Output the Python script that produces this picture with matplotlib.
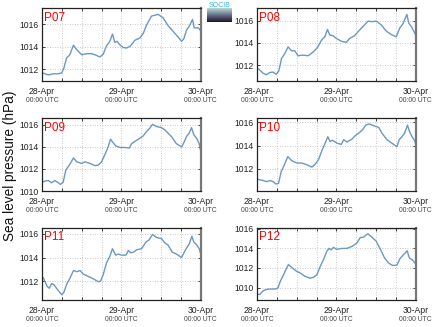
import numpy as np
import pandas as pd
import matplotlib
matplotlib.use("Agg")
import matplotlib.pyplot as plt
import matplotlib.dates as mdates
from matplotlib.ticker import MultipleLocator

plt.rcParams['font.family'] = ['Liberation Sans', 'DejaVu Sans']

# hours since 28-Apr 00:00 UTC and sea level pressure (hPa)
p07_h = [0, 0.9, 1.9, 3.4, 4.9, 6.0, 6.6, 7.4, 8.4, 9.5, 10.1, 11.0, 12.0, 13.5, 15.0, 16.0,
         17.5, 18.5, 19.5, 20.5, 21.3, 22.0, 22.7, 23.5, 24.5, 25.5, 26.6, 28.1, 29.6, 30.6,
         31.6, 33.1, 35.1, 36.6, 38.1, 39.6, 41.1, 42.2, 42.9, 43.7, 44.7, 45.5, 46.0, 47.2, 48]
p07_v = [1011.7, 1011.6, 1011.5, 1011.6, 1011.6, 1011.7, 1012.1, 1013.0, 1013.3, 1014.15,
         1013.9, 1013.6, 1013.3, 1013.4, 1013.4, 1013.3, 1013.1, 1013.35, 1014.1, 1014.5,
         1015.15, 1014.4, 1014.5, 1014.2, 1013.95, 1013.9, 1014.05, 1014.6, 1014.8, 1015.2,
         1015.95, 1016.75, 1016.9, 1016.6, 1015.9, 1015.4, 1014.9, 1014.5, 1014.75, 1015.5,
         1015.95, 1016.45, 1015.7, 1015.7, 1015.45]

p08_h = [0, 0.8, 1.8, 2.8, 3.8, 4.8, 5.8, 6.6, 7.4, 8.4, 9.4, 10.4, 11.4, 12.4, 13.4, 14.4,
         15.4, 16.4, 17.4, 18.4, 19.5, 20.5, 21.3, 22.0, 23.0, 24.0, 25.5, 27.0, 28.0, 29.5,
         31.0, 32.6, 33.6, 34.8, 36.1, 37.6, 39.1, 40.6, 42.1, 43.1, 44.2, 45.3, 45.9, 46.7, 48]
p08_v = [1011.73, 1011.6, 1011.3, 1011.15, 1011.35, 1011.4, 1011.2, 1011.5, 1012.6, 1013.05,
         1013.65, 1013.3, 1013.3, 1012.85, 1012.9, 1012.9, 1012.85, 1013.05, 1013.3, 1013.65,
         1014.25, 1014.55, 1015.2, 1014.7, 1014.65, 1014.4, 1014.15, 1014.05, 1014.4, 1014.65,
         1015.15, 1015.65, 1015.95, 1015.9, 1015.95, 1015.6, 1015.05, 1014.75, 1014.55, 1015.3,
         1015.75, 1016.55, 1015.75, 1015.45, 1014.7]

p09_h = [0, 0.9, 1.9, 2.9, 3.9, 4.9, 5.6, 6.4, 7.2, 8.25, 9.5, 10.5, 12.0, 13.0, 14.5, 16.0,
         17.0, 18.0, 19.0, 20.0, 20.7, 21.7, 22.3, 23.5, 25.0, 26.4, 27.1, 28.6, 29.6, 30.6,
         31.6, 32.6, 33.4, 34.6, 36.1, 37.1, 38.1, 39.1, 40.6, 42.2, 42.9, 43.7, 44.5, 45.2,
         45.9, 46.7, 47.5, 48]
p09_v = [1010.8, 1010.9, 1010.95, 1010.75, 1010.95, 1010.75, 1010.6, 1010.8, 1011.9, 1012.35,
         1013.0, 1012.65, 1012.5, 1012.65, 1012.5, 1012.3, 1012.35, 1012.65, 1013.3, 1014.0,
         1014.7, 1014.3, 1014.1, 1013.95, 1013.95, 1013.9, 1014.3, 1014.6, 1014.8, 1015.0,
         1015.4, 1015.7, 1016.05, 1015.85, 1015.75, 1015.55, 1015.25, 1014.95, 1014.3, 1014.0,
         1014.4, 1014.95, 1015.25, 1015.75, 1015.1, 1014.8, 1014.3, 1013.6]

p10_h = [0, 0.9, 1.9, 2.9, 3.9, 4.9, 5.7, 6.5, 7.3, 8.3, 9.3, 10.5, 12.0, 13.5, 15.1, 16.6,
         17.6, 18.6, 19.6, 20.6, 21.4, 22.1, 22.8, 24.2, 25.5, 26.2, 27.2, 28.7, 29.7, 30.7,
         31.9, 32.9, 33.9, 35.3, 36.8, 37.8, 39.3, 40.8, 42.3, 43.0, 43.8, 44.6, 45.5, 46.1,
         46.9, 47.7, 48]
p10_v = [1011.15, 1011.05, 1011.0, 1010.9, 1011.0, 1010.9, 1010.7, 1010.75, 1011.75, 1012.35,
         1013.05, 1012.7, 1012.5, 1012.5, 1012.35, 1012.15, 1012.4, 1012.8, 1013.55, 1014.2,
         1014.75, 1014.35, 1014.45, 1014.2, 1014.1, 1014.5, 1014.3, 1014.55, 1014.85, 1015.05,
         1015.35, 1015.75, 1015.85, 1015.7, 1015.55, 1015.05, 1014.5, 1014.2, 1013.9, 1014.5,
         1014.75, 1015.05, 1015.75, 1015.2, 1014.75, 1014.4, 1014.05]

p11_h = [0, 0.4, 0.9, 1.6, 2.2, 2.9, 3.6, 4.4, 5.2, 6.0, 6.6, 7.4, 8.45, 9.5, 10.5, 11.5,
         12.5, 14.0, 15.5, 17.0, 17.7, 18.5, 19.5, 20.5, 21.3, 21.7, 22.3, 23.0, 24.0, 25.4,
         26.1, 26.8, 27.6, 28.6, 30.1, 31.4, 32.4, 33.4, 34.6, 36.1, 37.1, 38.1, 39.4, 40.6,
         42.2, 42.9, 43.7, 44.5, 45.3, 45.9, 46.7, 47.5, 48]
p11_v = [1012.25, 1012.3, 1011.95, 1011.55, 1011.4, 1011.8, 1011.7, 1011.4, 1011.1, 1010.85,
         1011.05, 1011.7, 1012.25, 1012.9, 1012.8, 1012.9, 1012.6, 1012.4, 1012.2, 1011.95,
         1012.0, 1012.55, 1013.55, 1014.1, 1014.75, 1014.5, 1014.2, 1014.3, 1014.2, 1014.2,
         1014.6, 1014.4, 1014.45, 1014.65, 1014.75, 1015.3, 1015.5, 1015.95, 1015.7, 1015.6,
         1015.25, 1015.05, 1014.45, 1014.3, 1014.0, 1014.4, 1014.8, 1015.15, 1015.8, 1015.3,
         1015.1, 1014.75, 1014.3]

p12_h = [0, 0.9, 1.6, 2.4, 3.4, 4.4, 5.5, 6.3, 7.0, 8.0, 8.7, 9.5, 10.5, 12.0, 13.0, 14.5,
         16.1, 17.1, 18.1, 19.1, 20.1, 21.1, 21.8, 22.4, 23.1, 24.1, 25.7, 27.2, 28.7, 30.2,
         31.2, 32.2, 33.5, 34.7, 36.0, 37.3, 38.6, 39.8, 41.0, 42.3, 43.3, 44.3, 45.4, 46.1,
         46.9, 48]
p12_v = [1009.3, 1009.3, 1009.6, 1009.75, 1009.85, 1009.85, 1009.85, 1009.95, 1010.6, 1011.3,
         1011.8, 1012.35, 1012.05, 1011.65, 1011.5, 1011.15, 1010.95, 1011.05, 1011.3, 1012.15,
         1012.85, 1013.7, 1014.0, 1013.85, 1014.1, 1013.9, 1014.0, 1014.0, 1014.2, 1014.55,
         1015.1, 1015.15, 1015.5, 1015.15, 1014.75, 1013.9, 1013.0, 1012.5, 1012.25, 1012.3,
         1013.0, 1013.35, 1013.75, 1013.0, 1012.85, 1012.4]

names = ["P07", "P08", "P09", "P10", "P11", "P12"]
hours = [p07_h, p08_h, p09_h, p10_h, p11_h, p12_h]
values = [p07_v, p08_v, p09_v, p10_v, p11_v, p12_v]
ylims = [(1010.96, 1017.45), (1010.6, 1017.1), (1010.0, 1016.6),
         (1010.1, 1016.34), (1010.38, 1016.54), (1008.7, 1016.13)]

start = pd.Timestamp("2014-04-28 00:00")
days = pd.date_range(start, periods=3, freq="D")

fig = plt.figure(figsize=(4.35, 3.27), dpi=100)

# axes boxes in figure fractions
lefts = [0.0966, 0.5908]
width = 0.3650
bottoms = [0.7523, 0.4159, 0.0817]
height = 0.2225

line_color = "#6b98c3"

for i in range(6):
    row, col = i // 2, i % 2
    ax = fig.add_axes([lefts[col], bottoms[row], width, height])
    t = start + pd.to_timedelta(hours[i], unit="h")
    ax.plot(t, values[i], color=line_color, linewidth=1.0)

    ax.set_xlim(days[0], days[-1])
    ax.set_ylim(*ylims[i])
    ax.yaxis.set_major_locator(MultipleLocator(2))
    ax.yaxis.set_major_formatter(matplotlib.ticker.FormatStrFormatter("%d"))

    ax.xaxis.set_major_locator(mdates.HourLocator(byhour=[0, 6, 12, 18]))
    ax.xaxis.set_major_formatter(matplotlib.ticker.FuncFormatter(
        lambda x, pos: mdates.num2date(x).strftime("%d-%b") if mdates.num2date(x).hour == 0 else ""))

    ax.grid(True, linestyle=(0, (1, 2)), color="#b8b8b8", linewidth=0.6)
    ax.tick_params(direction="in", length=2, width=0.6, top=True, right=True,
                   labelsize=6.2, pad=2.5, colors="#222222")
    ax.tick_params(axis="x", labelsize=6.2, pad=4)
    for s in ["left", "top", "bottom"]:
        ax.spines[s].set_color("#222222")
        ax.spines[s].set_linewidth(0.9)
    ax.spines["right"].set_color("#777777")
    ax.spines["right"].set_linewidth(1.6)

    for d in days:
        ax.annotate("00:00 UTC", xy=(mdates.date2num(d), 0), xycoords=("data", "axes fraction"),
                    xytext=(0, -11.5), textcoords="offset points", ha="center", va="top",
                    fontsize=4.9, color="#444444", annotation_clip=False)

    ax.text(0.015, 0.955, names[i], transform=ax.transAxes, ha="left", va="top",
            color="red", fontsize=8.5)

fig.text(0.023, 0.492, "Sea level pressure (hPa)", rotation=90, ha="center", va="center",
         fontsize=9.8, color="#111111")

# small logo at the top centre
logo = fig.add_axes([0.476, 0.933, 0.057, 0.042])
logo.imshow(np.linspace(0, 1, 20).reshape(-1, 1), aspect="auto", cmap="bone_r",
            vmin=-0.3, vmax=1.2)
logo.axis("off")
fig.text(0.5045, 0.973, "SOCIB", ha="center", va="bottom", fontsize=5, color="#35b6cf")

fig.savefig("out.png", dpi=100)
